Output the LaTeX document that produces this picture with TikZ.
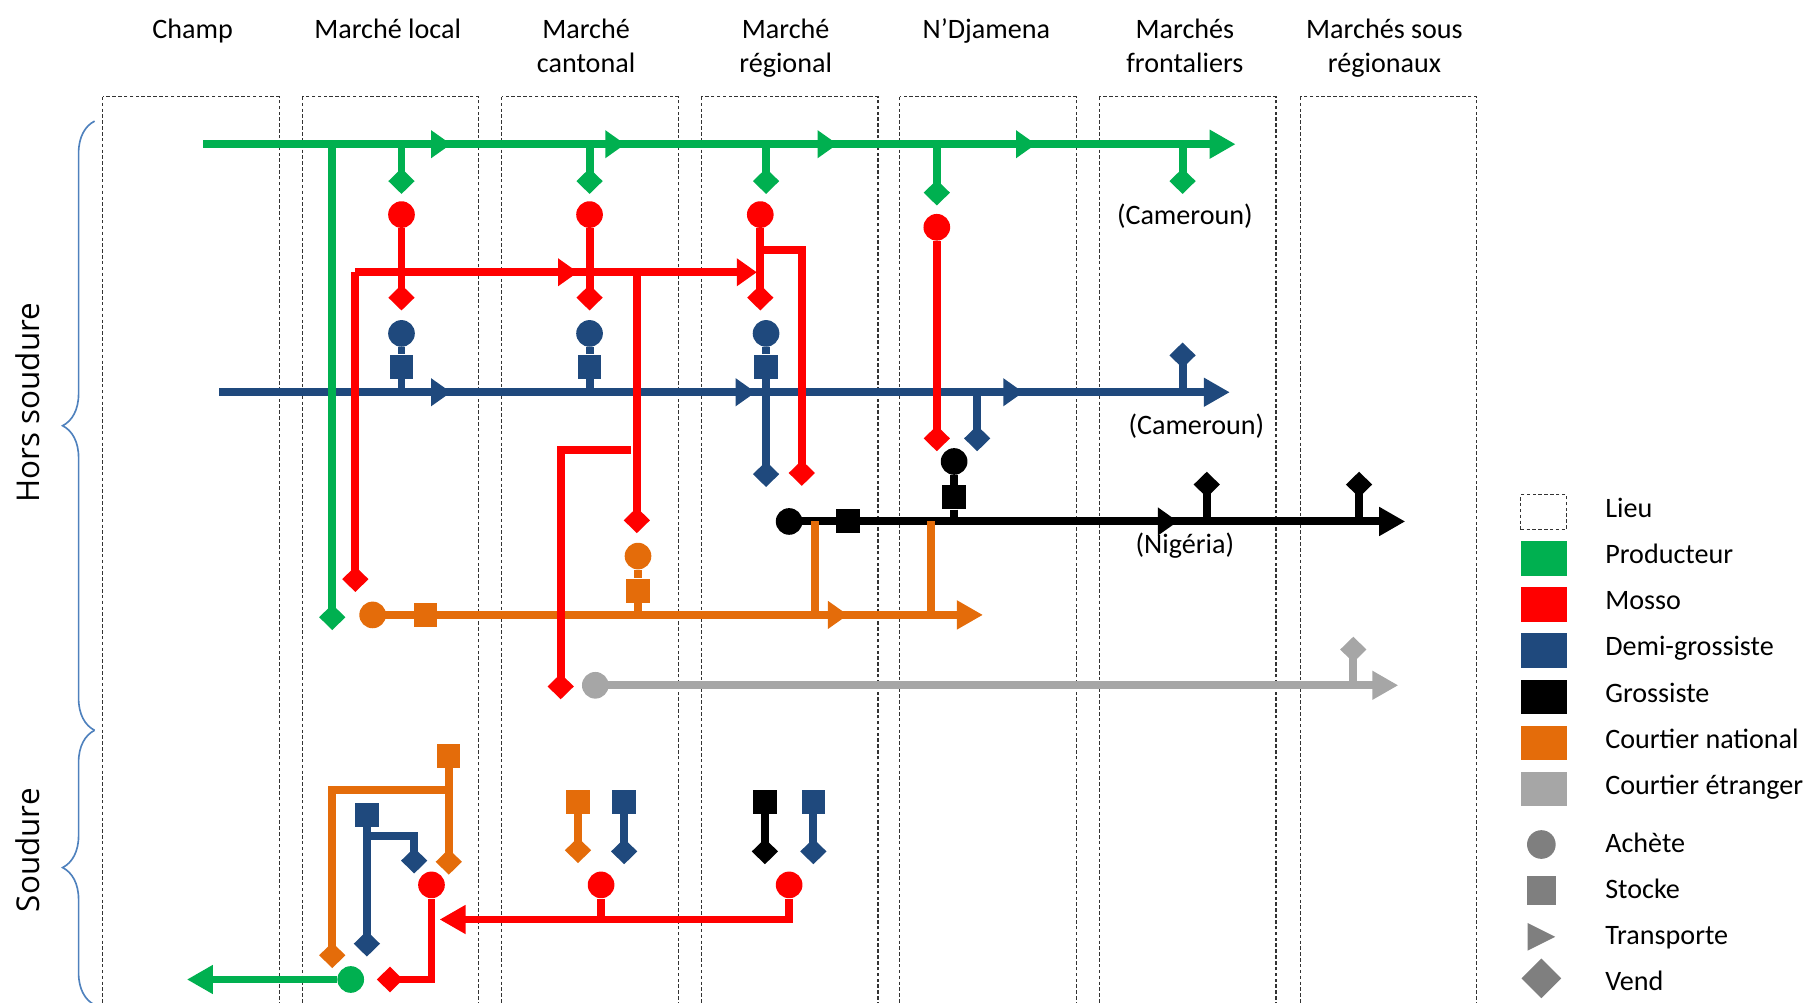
\documentclass[tikz,border=0pt]{standalone}
\usepackage{fontspec}
\setmainfont{Carlito}
\newfontfamily\phasefont{Open Sans}
\usetikzlibrary{arrows.meta,shapes.geometric,decorations.pathreplacing}

\definecolor{prodc}{HTML}{00B050}
\definecolor{mossoc}{HTML}{FF0000}
\definecolor{demic}{HTML}{1F497D}
\definecolor{grosc}{HTML}{000000}
\definecolor{cnatc}{HTML}{E46C0A}
\definecolor{cetrc}{HTML}{A6A6A6}
\definecolor{legc}{HTML}{7F7F7F}
\definecolor{bracec}{HTML}{4F81BD}

\tikzset{
  flow/.style={line width=3.4pt},
  midtip/.style={-{Triangle[length=0.3cm,width=0.4cm]}},
  endtip/.style={-{Triangle[length=0.39cm,width=0.41cm]}},
  buy/.style={circle,fill,inner sep=0pt,minimum size=0.4cm},
  stock/.style={rectangle,fill,inner sep=0pt,minimum width=0.35cm,minimum height=0.36cm},
  sell/.style={diamond,fill,inner sep=0pt,minimum width=0.4cm,minimum height=0.39cm},
  lieu/.style={draw=black!80,line width=0.5pt,dash pattern=on 1.5pt off 1pt},
  hdr/.style={anchor=north,inner sep=0pt,align=center},
  phase/.style={rotate=90,inner sep=0pt,font=\phasefont\fontsize{13.4}{16}\selectfont},
  period/.style={draw=bracec,line width=0.7pt,decorate,decoration={brace,amplitude=0.48cm}},
  legtext/.style={anchor=base west,inner sep=0pt}
}

\begin{document}
\begin{tikzpicture}[x=0.0173cm,y=-0.0173cm,font=\fontsize{12}{14.6}\selectfont]
\useasboundingbox (0,0) rectangle (1568,869);
\clip (0,0) rectangle (1568,869);

% lieux
\foreach \x in {89,262,435,608,780,953,1127}
  \draw[lieu] (\x,84) rectangle ++(153,820);

\node[hdr] (h1) at (167,16) {Champ};
\node[hdr] (h2) at (336,16) {Marché local};
\node[hdr] (h3) at (508,16) {Marché\\cantonal};
\node[hdr] (h4) at (681,16) {Marché\\régional};
\node[hdr] (h5) at (855,16) {N’Djamena};
\node[hdr] (h6) at (1027,16) {Marchés\\frontaliers};
\node[hdr] (h7) at (1200,16) {Marchés sous\\régionaux};

% periodes
\draw[period] (82,633) -- (82,105);
\draw[period] (82,871) -- (82,633);
\node[phase] (hs) at (24,349) {Hors soudure};
\node[phase] (sd) at (24,737) {Soudure};

% lignes principales
\coordinate (gA) at (176,125);
\coordinate (bA) at (190,340);
\coordinate (rA) at (308,236);
\draw[flow,prodc,endtip] (gA) -- (1071,125);
\foreach \x in {391,542,726,898}
  \draw[flow,prodc,midtip] (\x-25,125) -- (\x,125);
\draw[flow,demic,endtip] (bA) -- (1066,340);
\foreach \x in {391,655,887}
  \draw[flow,demic,midtip] (\x-25,340) -- (\x,340);
\draw[flow,mossoc,midtip] (rA) -- (656,236);
\draw[flow,mossoc,midtip] (476,236) -- (501,236);
\draw[flow,grosc,endtip] (684,452) -- (1218,452);
\draw[flow,grosc,midtip] (996,452) -- (1021,452);
\draw[flow,cnatc,endtip] (323,533) -- (852,533);
\draw[flow,cnatc,midtip] (710,533) -- (735,533);
\draw[flow,cetrc,endtip] (516,594) -- (1212,594);

% producteur
\node[sell,prodc] (gv0) at (288,535) {};
\node[sell,prodc] (gv1) at (348,157) {};
\node[sell,prodc] (gv2) at (511,157) {};
\node[sell,prodc] (gv3) at (664,157) {};
\node[sell,prodc] (gv4) at (812,167) {};
\node[sell,prodc] (gv5) at (1025,157) {};
\node[buy,prodc] (gb1) at (304,849) {};

% mosso
\node[buy,mossoc] (r1) at (348,186) {};
\node[buy,mossoc] (r2) at (511,186) {};
\node[buy,mossoc] (r3) at (659,186) {};
\node[buy,mossoc] (r4) at (812,197) {};
\node[buy,mossoc] (rs1) at (374,767) {};
\node[buy,mossoc] (rs2) at (521,767) {};
\node[buy,mossoc] (rs3) at (684,767) {};
\node[sell,mossoc] (rv1) at (348,258) {};
\node[sell,mossoc] (rv2) at (511,258) {};
\node[sell,mossoc] (rv3) at (659,258) {};
\node[sell,mossoc] (rv4) at (812,380) {};
\node[sell,mossoc] (rv5) at (308,502) {};
\node[sell,mossoc] (rv6) at (552,451) {};
\node[sell,mossoc] (rv7) at (486,595) {};
\node[sell,mossoc] (rv8) at (695,410) {};
\node[sell,mossoc] (rv9) at (338,849) {};

% demi-grossiste
\node[buy,demic] (b1) at (348,289) {};
\node[buy,demic] (b2) at (511,289) {};
\node[buy,demic] (b3) at (664,289) {};
\node[stock,demic] (bs1) at (348,318) {};
\node[stock,demic] (bs2) at (511,318) {};
\node[stock,demic] (bs3) at (664,318) {};
\node[stock,demic] (bs4) at (318,706) {};
\node[stock,demic] (bs5) at (541,695) {};
\node[stock,demic] (bs6) at (705,695) {};
\node[sell,demic] (bv1) at (664,411) {};
\node[sell,demic] (bv2) at (847,380) {};
\node[sell,demic] (bv3) at (1025,308) {};
\node[sell,demic] (bv4) at (318,818) {};
\node[sell,demic] (bv5) at (359,746) {};
\node[sell,demic] (bv6) at (541,738) {};
\node[sell,demic] (bv7) at (705,738) {};

% grossiste
\node[buy,grosc] (k1) at (684,452) {};
\node[stock,grosc] (ks1) at (735,452) {};
\node[buy,grosc] (k2) at (827,400) {};
\node[stock,grosc] (ks2) at (827,431) {};
\node[stock,grosc] (ks3) at (663,695) {};
\node[sell,grosc] (kv1) at (1046,420) {};
\node[sell,grosc] (kv2) at (1178,420) {};
\node[sell,grosc] (kv3) at (663,738) {};

% courtier national
\node[buy,cnatc] (o0) at (323,533) {};
\node[stock,cnatc] (os0) at (369,533) {};
\node[buy,cnatc] (o1) at (553,482) {};
\node[stock,cnatc] (os1) at (553,512) {};
\node[stock,cnatc] (os2) at (389,655) {};
\node[stock,cnatc] (os3) at (501,695) {};
\node[sell,cnatc] (ov1) at (389,747) {};
\node[sell,cnatc] (ov2) at (288,828) {};
\node[sell,cnatc] (ov3) at (501,737) {};

% courtier etranger
\node[buy,cetrc] (e1) at (516,594) {};
\node[sell,cetrc] (ev1) at (1173,563) {};

% liaisons verticales
\draw[flow,prodc] (gv0.center |- gA) -- (gv0.center);
\foreach \n in {gv1,gv2,gv3,gv4,gv5}
  \draw[flow,prodc] (\n.center |- gA) -- (\n.center);
\coordinate (gout) at (162,849);
\draw[flow,prodc,endtip] (gb1) -- (gout);

\foreach \c/\d in {r1/rv1,r2/rv2,r3/rv3,r4/rv4}
  \draw[flow,mossoc] (\c) -- (\d.center);
\draw[flow,mossoc] (rA) -- (rv5.center);
\draw[flow,mossoc] (rv6.center |- rA) -- (rv6.center);
\coordinate (rB) at (547,390);
\draw[flow,mossoc] (rB) -| (rv7.center);
\coordinate (rC) at (659,217);
\draw[flow,mossoc] (rC) -| (rv8.center);
\draw[flow,mossoc] (rs1) |- (rv9.center);
\coordinate (rD) at (381,797);
\draw[flow,mossoc,endtip] (rs3) |- (rD);
\draw[flow,mossoc] (rs2) -- (rs2 |- rD);

\foreach \c/\s in {b1/bs1,b2/bs2}{
  \draw[flow,demic] (\c) -- (\s);
  \draw[flow,demic] (\s) -- (\s |- bA);
}
\draw[flow,demic] (b3) -- (bs3);
\draw[flow,demic] (bs3) -- (bv1.center);
\draw[flow,demic] (bv2.center |- bA) -- (bv2.center);
\draw[flow,demic] (bv3.center |- bA) -- (bv3.center);
\draw[flow,demic] (bs4) -- (bv4.center);
\coordinate (bB) at (318,725);
\draw[flow,demic] (bB) -| (bv5.center);
\draw[flow,demic] (bs5) -- (bv6.center);
\draw[flow,demic] (bs6) -- (bv7.center);

\draw[flow,grosc] (k2) -- (ks2);
\draw[flow,grosc] (ks2) -- (ks2 |- k1);
\draw[flow,grosc] (kv1.center |- k1) -- (kv1.center);
\draw[flow,grosc] (kv2.center |- k1) -- (kv2.center);
\draw[flow,grosc] (ks3) -- (kv3.center);

\draw[flow,cnatc] (o1) -- (os1);
\draw[flow,cnatc] (os1) -- (os1 |- o0);
\foreach \x in {706,807}
  \draw[flow,cnatc] (\x,452) -- (\x,533);
\draw[flow,cnatc] (os2) -- (ov1.center);
\coordinate (oB) at (389,685);
\draw[flow,cnatc] (oB) -| (ov2.center);
\draw[flow,cnatc] (os3) -- (ov3.center);

\draw[flow,cetrc] (ev1.center |- e1) -- (ev1.center);

% pays
\node (cm1) at (1027,187) {(Cameroun)};
\node (cm2) at (1037,369) {(Cameroun)};
\node (ng) at (1027,473) {(Nigéria)};

% legende
\node[lieu,fill=white,minimum width=0.69cm,minimum height=0.52cm,inner sep=0pt] (l0) at (1338,444) {};
\node[legtext] (t0) at (1391,448.5) {Lieu};
\foreach \c/\t/\y [count=\i] in {prodc/Producteur/484,mossoc/Mosso/524,demic/Demi-grossiste/564,grosc/Grossiste/604,cnatc/Courtier national/644,cetrc/Courtier étranger/684}{
  \node[fill=\c,minimum width=0.69cm,minimum height=0.52cm,inner sep=0pt] (l\i) at (1338,\y) {};
  \node[legtext] (t\i) at (1391,\y+4.5) {\t};
}
\node[circle,fill=legc,minimum size=0.43cm,inner sep=0pt] (la) at (1336,732) {};
\node[fill=legc,minimum size=0.43cm,inner sep=0pt] (ls) at (1336,772) {};
\fill[legc] (1324,800) -- (1348,812) -- (1324,824) -- cycle;
\node[diamond,fill=legc,minimum width=0.6cm,minimum height=0.6cm,inner sep=0pt] (lv) at (1336,848) {};
\node[legtext] (ta) at (1391,738.5) {Achète};
\node[legtext] (ts) at (1391,779) {Stocke};
\node[legtext] (tt) at (1391,819) {Transporte};
\node[legtext] (tv) at (1391,858.5) {Vend};
\end{tikzpicture}
\end{document}
